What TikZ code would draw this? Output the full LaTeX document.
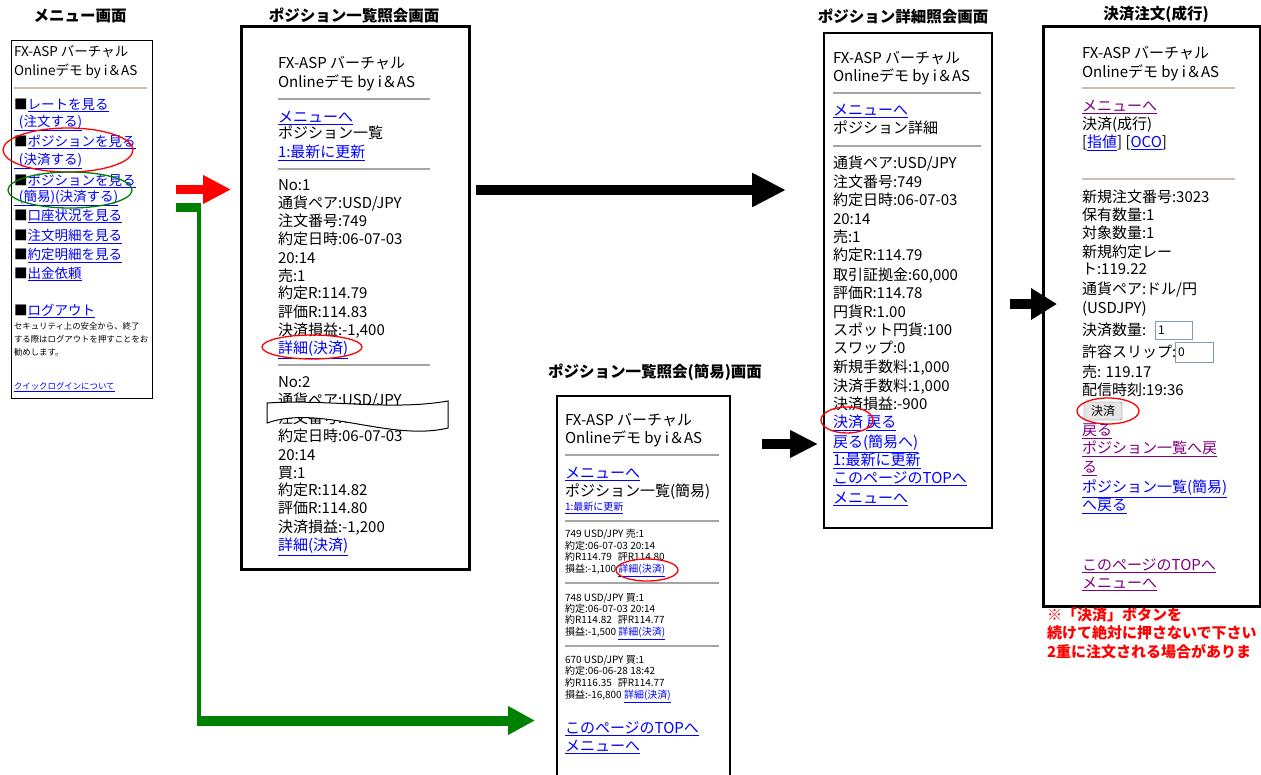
\documentclass[tikz,border=0pt]{standalone}
\usepackage{fontspec}
\setmainfont{Noto Sans CJK JP}
\usetikzlibrary{arrows.meta}
\definecolor{lnk}{RGB}{0,0,255}
\definecolor{vis}{RGB}{128,0,128}
\definecolor{hrgc}{RGB}{165,165,165}
\definecolor{hrtc}{RGB}{200,192,176}
\definecolor{grn}{RGB}{0,128,0}
\definecolor{inb}{RGB}{127,157,185}
\newcounter{tl}
\newcommand\T[4][]{\stepcounter{tl}\node[txt,#1] (t\arabic{tl}) at (#2,#3) {#4};}
\newcommand\LK[1]{\textcolor{lnk}{\underline{#1}}}
\newcommand\VS[1]{\textcolor{vis}{\underline{#1}}}
\begin{document}
\begin{tikzpicture}[x=1pt,y=-1pt,
  f15/.style={font=\fontsize{15}{18}\selectfont, text height=11.4pt},
  f13/.style={font=\fontsize{13.5}{16}\selectfont, text height=10.3pt},
  f10/.style={font=\fontsize{10}{12}\selectfont, text height=7.6pt},
  f8/.style={font=\fontsize{8.4}{10}\selectfont, text height=6.4pt},
  f12/.style={font=\fontsize{12}{14}\selectfont, text height=9.1pt},
  fnt/.style={f15},
  txt/.style={anchor=west, inner sep=0pt, outer sep=0pt, text depth=0pt, fnt},
  ttl/.style={inner sep=0pt, font=\fontsize{15.5}{18}\selectfont\bfseries},
  scr/.style={draw=black, fill=white, anchor=north west, inner sep=0pt},
  hrg/.style={draw=hrgc, line width=2pt},
  hrt/.style={draw=hrtc, line width=2pt},
  oval/.style={draw=red, line width=1.3pt},
  blk/.style={draw=black, line width=10pt},
]
\useasboundingbox (0,0) rectangle (1261,774);
\clip (0,0) rectangle (1261,774);
\fill[white] (0,0) rectangle (1261,774);

% titles
\node[ttl] (h1) at (80,16) {メニュー画面};
\node[ttl] (h2) at (354,15) {ポジション一覧照会画面};
\node[ttl] (h3) at (903,16) {ポジション詳細照会画面};
\node[ttl] (h4) at (1156,14) {決済注文(成行)};
\node[ttl] (h5) at (655,372) {ポジション一覧照会(簡易)画面};

% screens
\node[scr, line width=1.2pt, minimum width=141pt, minimum height=358pt] (menu) at (11,40) {};
\node[scr, line width=2.5pt, minimum width=228pt, minimum height=543pt] (plist) at (240,25) {};
\node[scr, line width=2pt, minimum width=168pt, minimum height=495pt] (detail) at (823,32) {};
\node[scr, line width=3pt, minimum width=217pt, minimum height=580pt] (order) at (1042,25) {};
\node[scr, line width=1.5pt, minimum width=173pt, minimum height=400pt] (simple) at (556,395) {};

% ---------- menu
\begin{scope}[fnt/.style=f13]
\T{14}{51}{FX-ASP バーチャル}
\T{14}{70}{Onlineデモ by i＆AS}
\draw[hrt] (14,88) -- (147,88);
\T{14}{104}{■\LK{レートを見る}}
\T{14}{121}{\LK{\hspace*{5pt}(注文する)}}
\T{14}{141}{■\LK{ポジションを見る}}
\T{14}{159}{\LK{\hspace*{5pt}(決済する)}}
\T{14}{180}{■\LK{ポジションを見る}}
\T{14}{196}{\LK{\hspace*{5pt}(簡易)(決済する)}}
\T{14}{215}{■\LK{口座状況を見る}}
\T{14}{235}{■\LK{注文明細を見る}}
\T{14}{254}{■\LK{約定明細を見る}}
\T{14}{273}{■\LK{出金依頼}}
\T{14}{310}{■\LK{ログアウト}}
\T[f8]{14}{326}{セキュリティ上の安全から、終了}
\T[f8]{14}{339}{する際はログアウトを押すことをお}
\T[f8]{14}{352}{勧めします。}
\T[f8]{14}{386}{\LK{クイックログインについて}}
\end{scope}
\draw[oval] (68,150) ellipse [x radius=65, y radius=22];
\draw[oval, draw=grn] (70,190) ellipse [x radius=62, y radius=18];

% ---------- position list
\T{278}{63}{FX-ASP バーチャル}
\T{278}{82}{Onlineデモ by i＆AS}
\draw[hrg] (278,99) -- (430,99);
\T{278}{117}{\LK{メニューへ}}
\T{278}{133}{ポジション一覧}
\T{278}{152}{\LK{1:最新に更新}}
\draw[hrg] (278,169) -- (430,169);
\T{278}{185}{No:1}
\T{278}{203}{通貨ペア:USD/JPY}
\T{278}{221}{注文番号:749}
\T{278}{239}{約定日時:06-07-03}
\T{278}{258}{20:14}
\T{278}{276}{売:1}
\T{278}{293}{約定R:114.79}
\T{278}{312}{評価R:114.83}
\T{278}{330}{決済損益:-1,400}
\T{278}{348}{\LK{詳細(決済)}}
\draw[hrg] (278,365) -- (430,365);
\T{278}{382}{No:2}
\T{278}{400}{通貨ペア:USD/JPY}
\T{278}{418}{注文番号:748}
\T{278}{436}{約定日時:06-07-03}
\T{278}{455}{20:14}
\T{278}{473}{買:1}
\T{278}{490}{約定R:114.82}
\T{278}{508}{評価R:114.80}
\T{278}{527}{決済損益:-1,200}
\T{278}{545}{\LK{詳細(決済)}}
\draw[oval] (312,347) ellipse [x radius=50, y radius=12];
\draw[fill=white, line width=1pt] (267,403) .. controls (330,399) and (390,411) .. (448,401)
  -- (448,428) .. controls (390,442) and (320,404) .. (267,423) -- cycle;

% ---------- detail
\T{833}{58}{FX-ASP バーチャル}
\T{833}{76}{Onlineデモ by i＆AS}
\draw[hrg] (833,93) -- (981,93);
\T{833}{110}{\LK{メニューへ}}
\T{833}{128}{ポジション詳細}
\draw[hrg] (833,146) -- (981,146);
\T{833}{163}{通貨ペア:USD/JPY}
\T{833}{182}{注文番号:749}
\T{833}{200}{約定日時:06-07-03}
\T{833}{219}{20:14}
\T{833}{237}{売:1}
\T{833}{255}{約定R:114.79}
\T{833}{275}{取引証拠金:60,000}
\T{833}{293}{評価R:114.78}
\T{833}{312}{円貨R:1.00}
\T{833}{330}{スポット円貨:100}
\T{833}{348}{スワップ:0}
\T{833}{367}{新規手数料:1,000}
\T{833}{386}{決済手数料:1,000}
\T{833}{404}{決済損益:-900}
\T{833}{422}{\LK{決済} \LK{戻る}}
\T{833}{442}{\LK{戻る(簡易へ)}}
\T{833}{460}{\LK{1:最新に更新}}
\T{833}{478}{\LK{このページのTOPへ}}
\T{833}{498}{\LK{メニューへ}}
\draw[oval] (847,420) ellipse [x radius=26, y radius=13];

% ---------- order
\T{1082}{53}{FX-ASP バーチャル}
\T{1082}{72}{Onlineデモ by i＆AS}
\draw[hrt] (1082,88) -- (1235,88);
\T{1082}{106}{\VS{メニューへ}}
\T{1082}{124}{決済(成行)}
\T{1082}{142}{[\LK{指値}] [\LK{OCO}]}
\draw[hrt] (1082,179) -- (1235,179);
\T{1082}{197}{新規注文番号:3023}
\T{1082}{215}{保有数量:1}
\T{1082}{233}{対象数量:1}
\T{1082}{252}{新規約定レー}
\T{1082}{269}{ト:119.22}
\T{1082}{289}{通貨ペア:ドル/円}
\T{1082}{308}{(USDJPY)}
\T{1082}{330}{決済数量:}
\draw[inb, line width=1pt, fill=white] (1155,321) rectangle (1192,339);
\T[f12]{1158}{330}{1}
\T{1082}{352}{許容スリップ:}
\draw[inb, line width=1pt, fill=white] (1175,342) rectangle (1213,362);
\T[f12]{1178}{352}{0}
\T{1082}{372}{売: 119.17}
\T{1082}{390}{配信時刻:19:36}
\node[draw=black!60, fill=black!10, rounded corners=2pt, minimum width=38pt, minimum height=18pt, inner sep=0pt, font=\fontsize{12}{14}\selectfont] (btn) at (1103,411) {決済};
\draw[oval] (1108,411) ellipse [x radius=31, y radius=13];
\T{1082}{430}{\VS{戻る}}
\T{1082}{448}{\VS{ポジション一覧へ戻}}
\T{1082}{467}{\VS{る}}
\T{1082}{487}{\LK{ポジション一覧(簡易)}}
\T{1082}{505}{\LK{へ戻る}}
\T{1082}{565}{\VS{このページのTOPへ}}
\T{1082}{583}{\VS{メニューへ}}
\begin{scope}[fnt/.style={font=\fontsize{15}{18}\selectfont\bfseries, text height=11.4pt}]
\T[text=red]{1047}{615}{※「決済」ボタンを}
\T[text=red]{1047}{633}{続けて絶対に押さないで下さい}
\T[text=red]{1047}{652}{2重に注文される場合がありま}
\end{scope}

% ---------- simple list
\T{565}{420}{FX-ASP バーチャル}
\T{565}{438}{Onlineデモ by i＆AS}
\draw[hrg] (565,455) -- (719,455);
\T{565}{473}{\LK{メニューへ}}
\T{565}{491}{ポジション一覧(簡易)}
\T[f10]{565}{507}{\LK{1:最新に更新}}
\draw[hrg] (565,521) -- (719,521);
\begin{scope}[fnt/.style=f10]
\T{565}{534}{749 USD/JPY 売:1}
\T{565}{546}{約定:06-07-03 20:14}
\T{565}{557}{約R114.79\hspace{0.6em}評R114.80}
\T{565}{569}{損益:-1,100 \LK{詳細(決済)}}
\T{565}{598}{748 USD/JPY 買:1}
\T{565}{609}{約定:06-07-03 20:14}
\T{565}{620}{約R114.82\hspace{0.6em}評R114.77}
\T{565}{632}{損益:-1,500 \LK{詳細(決済)}}
\T{565}{660}{670 USD/JPY 買:1}
\T{565}{671}{約定:06-06-28 18:42}
\T{565}{683}{約R116.35\hspace{0.6em}評R114.77}
\T{565}{695}{損益:-16,800 \LK{詳細(決済)}}
\end{scope}
\draw[hrg] (565,583) -- (719,583);
\draw[hrg] (565,646) -- (719,646);
\T{565}{728}{\LK{このページのTOPへ}}
\T{565}{746}{\LK{メニューへ}}
\draw[oval] (647,570) ellipse [x radius=31, y radius=11];

% ---------- arrows
\coordinate (r1) at (176,189.5);
\coordinate (r2) at (231,189.5);
\draw[red, line width=9pt, -{Triangle[length=28pt,width=27pt]}] (r1) -- (r2);
\coordinate (g1) at (176,207.5);
\coordinate (g2) at (201,207.5);
\coordinate (g3) at (199,203);
\coordinate (g4) at (199,722);
\coordinate (g5) at (197,720.5);
\coordinate (g6) at (535,720.5);
\draw[grn, line width=9pt] (g1) -- (g2);
\draw[grn, line width=4pt] (g3) -- (g4);
\draw[grn, line width=10pt, -{Triangle[length=27pt,width=27pt]}] (g5) -- (g6);
\coordinate (b1) at (476,190);
\coordinate (b2) at (786,190);
\draw[blk, -{Triangle[length=34pt,width=32pt]}] (b1) -- (b2);
\coordinate (b3) at (762,444);
\coordinate (b4) at (818,444);
\draw[blk, -{Triangle[length=28pt,width=26pt]}] (b3) -- (b4);
\coordinate (b5) at (1010,304);
\coordinate (b6) at (1057,304);
\draw[blk, -{Triangle[length=26pt,width=30pt]}] (b5) -- (b6);
\end{tikzpicture}
\end{document}
